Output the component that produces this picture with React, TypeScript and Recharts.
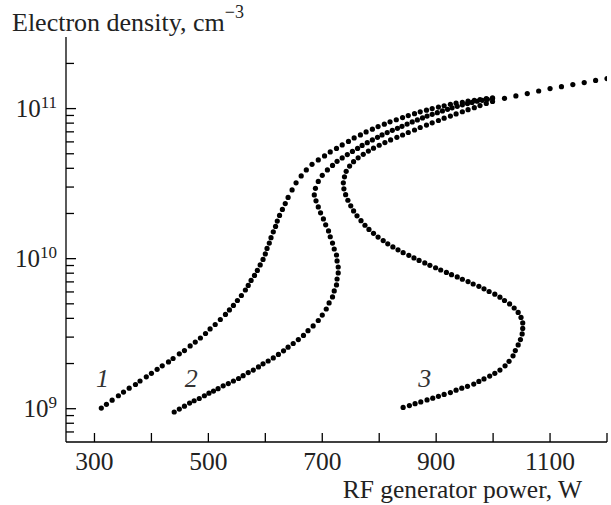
import React from 'react';
import { ScatterChart, Scatter, XAxis, YAxis } from 'recharts';

// power (W), electron density (cm^-3)
const curve1: [number, number][] = [
  [312, 1.01e9], [321, 1.07e9], [331, 1.14e9], [342, 1.22e9], [351, 1.29e9], [361, 1.37e9],
  [372, 1.45e9], [380, 1.53e9], [391, 1.63e9], [400, 1.72e9], [410, 1.83e9], [419, 1.93e9],
  [430, 2.05e9], [438, 2.16e9], [449, 2.32e9], [458, 2.44e9], [468, 2.62e9], [477, 2.78e9],
  [486, 2.96e9], [495, 3.17e9], [503, 3.4e9], [512, 3.64e9], [521, 3.93e9], [530, 4.25e9],
  [537, 4.55e9], [544, 4.88e9], [551, 5.26e9], [558, 5.68e9], [565, 6.18e9], [570, 6.63e9],
  [575, 7.16e9], [581, 7.73e9], [586, 8.35e9], [591, 9.08e9], [596, 9.88e9], [600, 1.075e10],
  [603, 1.17e10], [607, 1.27e10], [610, 1.38e10], [614, 1.51e10], [618, 1.64e10], [621, 1.78e10],
  [625, 1.94e10], [630, 2.13e10], [635, 2.33e10], [640, 2.56e10], [647, 2.87e10], [654, 3.2e10],
  [663, 3.56e10], [672, 3.9e10], [682, 4.25e10], [693, 4.55e10], [704, 4.84e10], [714, 5.14e10],
  [725, 5.43e10], [735, 5.73e10], [746, 6.04e10], [756, 6.38e10], [767, 6.68e10], [777, 6.99e10],
  [788, 7.29e10], [798, 7.59e10], [809, 7.87e10], [819, 8.16e10], [830, 8.43e10], [841, 8.71e10],
  [851, 8.98e10], [862, 9.25e10], [872, 9.51e10], [883, 9.76e10], [893, 1.0e11], [904, 1.023e11],
  [914, 1.045e11], [925, 1.067e11], [935, 1.086e11], [946, 1.1e11], [956, 1.12e11], [967, 1.135e11],
  [977, 1.15e11], [988, 1.165e11], [999, 1.18e11],
];

const curve2: [number, number][] = [
  [440, 9.51e8], [449, 9.95e8], [458, 1.04e9], [467, 1.09e9], [475, 1.13e9], [484, 1.17e9],
  [493, 1.22e9], [501, 1.27e9], [509, 1.31e9], [517, 1.36e9], [526, 1.42e9], [535, 1.47e9],
  [544, 1.53e9], [553, 1.59e9], [561, 1.66e9], [570, 1.74e9], [579, 1.81e9], [588, 1.9e9],
  [596, 1.99e9], [605, 2.08e9], [614, 2.18e9], [623, 2.3e9], [632, 2.43e9], [640, 2.57e9],
  [649, 2.72e9], [658, 2.89e9], [667, 3.08e9], [675, 3.31e9], [684, 3.56e9], [693, 3.87e9],
  [700, 4.21e9], [707, 4.62e9], [712, 5.07e9], [718, 5.56e9], [721, 6.09e9], [725, 6.68e9],
  [726, 7.32e9], [728, 8.03e9], [728, 8.8e9], [726, 9.65e9], [725, 1.058e10], [721, 1.16e10],
  [718, 1.27e10], [714, 1.4e10], [711, 1.53e10], [706, 1.68e10], [702, 1.84e10], [697, 2.02e10],
  [693, 2.21e10], [689, 2.43e10], [686, 2.66e10], [688, 2.94e10], [693, 3.27e10], [700, 3.59e10],
  [709, 3.9e10], [718, 4.18e10], [726, 4.45e10], [735, 4.69e10], [744, 4.94e10], [753, 5.18e10],
  [762, 5.43e10], [770, 5.68e10], [779, 5.93e10], [788, 6.18e10], [797, 6.43e10], [805, 6.68e10],
  [814, 6.92e10], [823, 7.16e10], [832, 7.39e10], [840, 7.62e10], [849, 7.88e10], [858, 8.15e10],
  [867, 8.41e10], [876, 8.67e10], [884, 8.91e10], [893, 9.16e10], [902, 9.4e10], [911, 9.65e10],
  [920, 9.89e10], [928, 1.012e11], [937, 1.036e11], [946, 1.059e11], [955, 1.08e11], [963, 1.1e11],
  [972, 1.119e11], [981, 1.136e11], [990, 1.152e11], [999, 1.166e11],
];

const curve3: [number, number][] = [
  [842, 1.02e9], [853, 1.05e9], [863, 1.08e9], [873, 1.11e9], [884, 1.145e9], [894, 1.175e9],
  [904, 1.21e9], [914, 1.245e9], [925, 1.28e9], [935, 1.33e9], [945, 1.37e9], [955, 1.41e9],
  [966, 1.46e9], [975, 1.52e9], [984, 1.58e9], [994, 1.65e9], [1003, 1.72e9], [1012, 1.81e9],
  [1021, 1.93e9], [1028, 2.07e9], [1035, 2.25e9], [1039, 2.44e9], [1044, 2.66e9], [1048, 2.89e9],
  [1051, 3.15e9], [1052, 3.43e9], [1052, 3.73e9], [1049, 4.06e9], [1044, 4.38e9], [1037, 4.69e9],
  [1029, 4.99e9], [1020, 5.26e9], [1012, 5.54e9], [1003, 5.8e9], [993, 6.04e9], [984, 6.29e9],
  [975, 6.54e9], [965, 6.78e9], [956, 7.04e9], [946, 7.29e9], [937, 7.55e9], [927, 7.82e9],
  [918, 8.1e9], [908, 8.4e9], [899, 8.7e9], [889, 9.02e9], [880, 9.36e9], [870, 9.73e9],
  [861, 1.011e10], [852, 1.052e10], [842, 1.096e10], [833, 1.145e10], [824, 1.197e10], [815, 1.256e10],
  [807, 1.32e10], [798, 1.393e10], [790, 1.475e10], [782, 1.565e10], [775, 1.67e10], [768, 1.79e10],
  [761, 1.93e10], [755, 2.08e10], [750, 2.25e10], [745, 2.45e10], [741, 2.67e10], [738, 2.92e10],
  [737, 3.2e10], [739, 3.51e10], [742, 3.82e10], [748, 4.14e10], [755, 4.43e10], [763, 4.7e10],
  [772, 4.96e10], [781, 5.21e10], [790, 5.45e10], [800, 5.7e10], [810, 5.94e10], [820, 6.18e10],
  [831, 6.43e10], [841, 6.67e10], [851, 6.93e10], [862, 7.2e10], [872, 7.48e10], [883, 7.76e10],
  [893, 8.04e10], [904, 8.33e10], [914, 8.63e10], [925, 8.92e10], [935, 9.21e10], [946, 9.53e10],
  [956, 9.83e10], [967, 1.015e11], [977, 1.048e11], [988, 1.082e11], [999, 1.115e11],
  [1020, 1.17e11], [1040, 1.215e11], [1060, 1.26e11], [1080, 1.31e11], [1100, 1.36e11],
  [1120, 1.4e11], [1140, 1.445e11], [1160, 1.49e11], [1180, 1.54e11], [1200, 1.585e11],
];

const curveNames = ['1', '2', '3'];
const labelPower = [314, 470, 880];
const labelDensity = [1.4e9, 1.4e9, 1.4e9];

const powerTicks = [300, 400, 500, 600, 700, 800, 900, 1000, 1100, 1200];
const powerLabels = [300, 500, 700, 900, 1100];
const densityTicks = [
  7e8, 8e8, 9e8, 1e9, 2e9, 3e9, 4e9, 5e9, 6e9, 7e9, 8e9, 9e9,
  1e10, 2e10, 3e10, 4e10, 5e10, 6e10, 7e10, 8e10, 9e10, 1e11, 2e11,
];

const FONT = '"Liberation Serif", "Times New Roman", serif';

const toRows = (c: [number, number][]) => c.map(([power, density]) => ({ power, density }));
const labelRows = curveNames.map((name, i) => ({ name, power: labelPower[i], density: labelDensity[i] }));

const Dot = (p: any) => <circle cx={p.cx} cy={p.cy} r={2.6} fill="#000" />;

const CurveName = (p: any) => (
  <text x={p.cx} y={p.cy} textAnchor="middle" fontFamily={FONT} fontStyle="italic" fontSize={26} fill="#333">
    {p.payload.name}
  </text>
);

function PowerTick({ x, y, payload }: any) {
  const v = payload.value;
  return (
    <g>
      <line x1={x} y1={y} x2={x} y2={y - 9} stroke="#000" strokeWidth={1.3} />
      {powerLabels.includes(v) && (
        <text x={x} y={y + 28} textAnchor="middle" fontFamily={FONT} fontSize={25.5} fill="#222">
          {v}
        </text>
      )}
    </g>
  );
}

function DensityTick({ x, y, payload }: any) {
  const v = payload.value;
  const exp = Math.log10(v);
  const major = Math.abs(exp - Math.round(exp)) < 1e-6;
  return (
    <g>
      <line x1={x} y1={y} x2={x + (major ? 10 : 8)} y2={y} stroke="#000" strokeWidth={1.3} />
      {major && (
        <text x={x - 9} y={y + 8} textAnchor="end" fontFamily={FONT} fill="#222">
          <tspan fontSize={25}>10</tspan>
          <tspan fontSize={17} dy={-9}>{Math.round(exp)}</tspan>
        </text>
      )}
    </g>
  );
}

export default function App() {
  return (
    <div style={{ position: 'absolute', left: 0, top: 0, background: '#fff' }}>
      <ScatterChart width={611} height={505} margin={{ top: 37, right: 4, bottom: 0, left: 0 }}>
        <XAxis
          type="number"
          dataKey="power"
          domain={[250, 1200]}
          allowDataOverflow
          ticks={powerTicks}
          interval={0}
          tickSize={0}
          tickMargin={0}
          tickLine={false}
          tick={<PowerTick />}
          height={63}
          axisLine={{ stroke: '#000', strokeWidth: 1.3 }}
          label={() => (
            <text x={582} y={498} textAnchor="end" fontFamily={FONT} fontSize={25.5} fill="#222">
              RF generator power, W
            </text>
          )}
        />
        <YAxis
          type="number"
          dataKey="density"
          scale="log"
          domain={[6e8, 3e11]}
          allowDataOverflow
          ticks={densityTicks}
          interval={0}
          tickSize={0}
          tickMargin={0}
          tickLine={false}
          tick={<DensityTick />}
          width={66}
          axisLine={{ stroke: '#000', strokeWidth: 1.3 }}
          label={() => (
            <text x={12} y={31} fontFamily={FONT} fill="#222">
              <tspan fontSize={26}>Electron density, cm</tspan>
              <tspan fontSize={18} dy={-13}>−3</tspan>
            </text>
          )}
        />
        <Scatter data={toRows(curve1)} shape={Dot} isAnimationActive={false} />
        <Scatter data={toRows(curve2)} shape={Dot} isAnimationActive={false} />
        <Scatter data={toRows(curve3)} shape={Dot} isAnimationActive={false} />
        <Scatter data={labelRows} shape={CurveName} isAnimationActive={false} />
      </ScatterChart>
    </div>
  );
}
